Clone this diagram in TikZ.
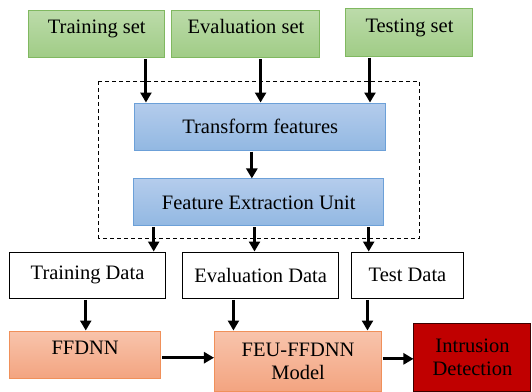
\documentclass[tikz,border=0pt]{standalone}
\usepackage{fontspec}
\setmainfont{Liberation Serif}
\newfontfamily\timesfont{Liberation Serif}
\usetikzlibrary{positioning}
\usetikzlibrary{arrows.meta,shapes}
\usetikzlibrary{calc}
\definecolor{greentop}{RGB}{188,219,170}
\definecolor{greenbot}{RGB}{160,204,134}
\definecolor{greenline}{RGB}{128,184,96}
\definecolor{bluetop}{RGB}{180,204,236}
\definecolor{bluebot}{RGB}{146,184,226}
\definecolor{blueline}{RGB}{108,160,216}
\definecolor{orangetop}{RGB}{248,196,172}
\definecolor{orangebot}{RGB}{243,164,128}
\definecolor{orangeline}{RGB}{240,144,90}
\definecolor{darkred}{RGB}{192,0,0}
\definecolor{redline}{RGB}{60,0,0}
\tikzstyle{box}=[rectangle,draw,line width=0.5pt,inner sep=0pt,align=center,font=\timesfont\fontsize{10.25}{11.5}\selectfont]
\tikzstyle{setbox}=[box,draw=greenline,top color=greentop,bottom color=greenbot,minimum height=23.75pt,text height=7pt,text depth=7pt]
\tikzstyle{unitbox}=[box,draw=blueline,top color=bluetop,bottom color=bluebot,minimum height=23.5pt]
\tikzstyle{databox}=[box,draw=black,fill=white,minimum height=23.2pt]
\tikzstyle{modelbox}=[box,draw=orangeline,top color=orangetop,bottom color=orangebot]
\tikzstyle{resultbox}=[box,draw=redline,fill=darkred,minimum width=58.5pt,minimum height=34.25pt]
\tikzstyle{edge} = [draw,line width=1.5pt,-{Triangle[length=5pt,width=5.5pt]}]
\tikzstyle{unitframe} = [draw,line width=0.5pt,dash pattern=on 2pt off 1.5pt]

\begin{document}
\begin{tikzpicture}[x=0.5pt,y=-0.5pt]
    \useasboundingbox (0,0) rectangle (532,392);

    % First the input sets on top
    \foreach \pos/\name/\label/\boxw in {{(96.75,33.75)/tset/Training set/68.25pt}, {(246,33.75)/eset/Evaluation set/74pt}, {(409.5,32.25)/teset/Testing set/63.5pt}}
        \node[setbox,minimum width=\boxw] (\name) at \pos {\label};

    % Feature extraction unit (dashed frame)
    \draw[unitframe] (99,81.4) rectangle (420,238);
    \node[unitbox,minimum width=125.25pt] (trans) at (260.25,126.5) {Transform features};
    \node[unitbox,minimum width=125.3pt] (feu) at (258.7,202.45) {Feature Extraction Unit};

    % Then the data sets
    \foreach \pos/\name/\label/\boxw in {{(87.55,275.2)/trdata/Training Data/78pt}, {(260.65,275.2)/evdata/Evaluation Data/78pt}, {(407.5,275.2)/tsdata/Test Data/56pt}}
        \node[databox,minimum width=\boxw] (\name) at \pos {\label};

    % Models and result
    \node[modelbox,minimum width=75.65pt,minimum height=23.7pt,text height=7pt,text depth=7pt] (ffdnn) at (85.15,354.7) {FFDNN};
    \node[modelbox,minimum width=83.6pt,minimum height=30.25pt] (model) at (298.1,361.25) {FEU-FFDNN\\Model};
    \node[resultbox] (intr) at (472.5,357.25) {Intrusion\\Detection};

    % Connect boxes with arrows
    \foreach \source/\dest/\dx in {tset/trans/24.6pt, eset/trans/7.3pt, teset/trans/-19.75pt, trans/feu/-4.2pt, feu/trdata/-52.5pt, feu/evdata/-2.1pt, feu/tsdata/55pt, trdata/ffdnn/-0.9pt, evdata/model/-13.6pt, tsdata/model/-20pt}
        \path[edge] ([xshift=\dx,yshift=-0.5pt]\source.south) -- ([xshift=\dx]\source.south |- \dest.north);
    \path[edge] ([xshift=0.5pt,yshift=-1.5pt]ffdnn.east) -- ([yshift=-1.5pt]ffdnn.east -| model.west);
    \path[edge] ([xshift=0.3pt,yshift=1.2pt]model.east) -- ([yshift=1.2pt]model.east -| intr.west);

\end{tikzpicture}
\end{document}
